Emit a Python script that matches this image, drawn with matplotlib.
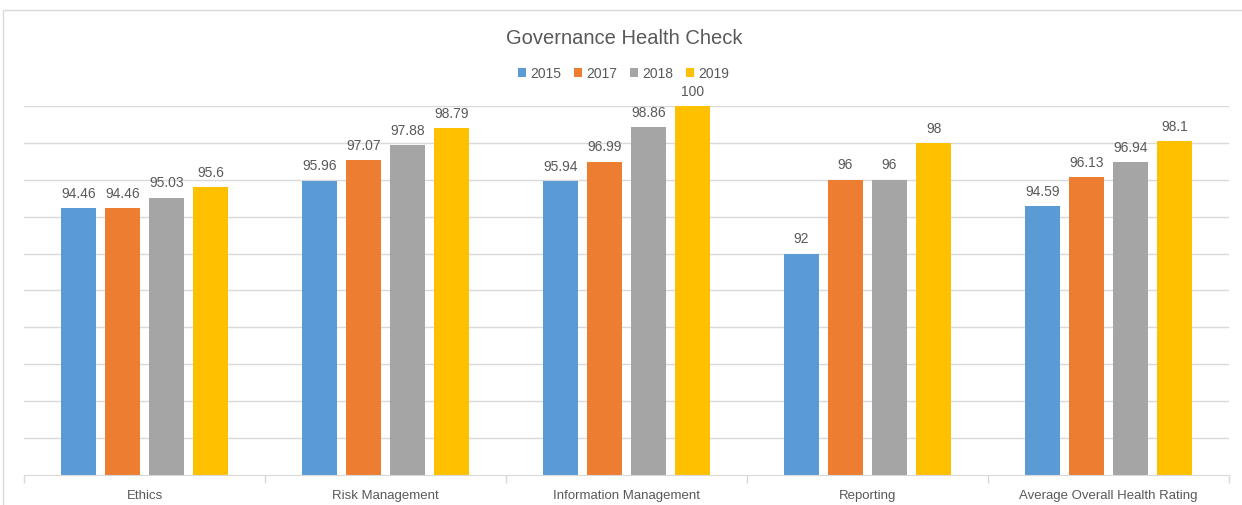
import numpy as np
import matplotlib.pyplot as plt
from matplotlib.patches import Rectangle

plt.rcParams['font.family'] = ['Liberation Sans', 'DejaVu Sans']

categories = ['Ethics', 'Risk Management', 'Information Management',
              'Reporting', 'Average Overall Health Rating']
years = ['2015', '2017', '2018', '2019']
v2015 = [94.46, 95.96, 95.94, 92, 94.59]
v2017 = [94.46, 97.07, 96.99, 96, 96.13]
v2018 = [95.03, 97.88, 98.86, 96, 96.94]
v2019 = [95.6, 98.79, 100, 98, 98.1]
labels2015 = ['94.46', '95.96', '95.94', '92', '94.59']
labels2017 = ['94.46', '97.07', '96.99', '96', '96.13']
labels2018 = ['95.03', '97.88', '98.86', '96', '96.94']
labels2019 = ['95.6', '98.79', '100', '98', '98.1']

series = [v2015, v2017, v2018, v2019]
series_labels = [labels2015, labels2017, labels2018, labels2019]
colors = ['#5B9BD5', '#ED7D31', '#A5A5A5', '#FFC000']
text_c = '#595959'

fig = plt.figure(figsize=(12.42, 5.06), dpi=100)
fig.patches.append(Rectangle((3/1242, -0.2), 2.0, 0.2 + (506-11)/506,
                             transform=fig.transFigure, fill=False,
                             edgecolor='#d9d9d9', lw=1.0))
ax = fig.add_axes([24/1242, (506-476)/506, 1205/1242, 369/506])

x = np.arange(len(categories))
step = 0.183
width = 0.145
for i, (vals, labs, col, yr) in enumerate(zip(series, series_labels, colors, years)):
    pos = x + (i - 1.5)*step
    ax.bar(pos, np.array(vals) - 80, width, bottom=80, color=col, label=yr)
    for p, v, l in zip(pos, vals, labs):
        ax.text(p, v + 0.45, l, ha='center', va='bottom', fontsize=10, color=text_c)

ax.set_xlim(-0.5, len(categories) - 0.5)
ax.set_ylim(80, 100)
ax.set_yticks(np.arange(82, 101, 2))
ax.yaxis.grid(True, color='#d9d9d9', lw=1)
ax.set_axisbelow(True)
ax.tick_params(axis='y', length=0, labelleft=False)
for s in ['top', 'right', 'left']:
    ax.spines[s].set_visible(False)
ax.spines['bottom'].set_color('#d9d9d9')
ax.set_xticks(x)
ax.set_xticklabels(categories, fontsize=9.5, color=text_c)
ax.tick_params(axis='x', length=0, pad=10)
ax.set_xticks(np.arange(-0.5, len(categories), 1), minor=True)
ax.tick_params(axis='x', which='minor', length=6, color='#d9d9d9', width=1)

fig.text(0.503, (506-38)/506, 'Governance Health Check', ha='center', va='center',
         fontsize=14.5, color=text_c)
fig.legend(loc='center', bbox_to_anchor=(0.502, (506-74)/506), ncol=4, frameon=False,
           fontsize=10, labelcolor=text_c, handlelength=0.6, handleheight=0.6,
           handletextpad=0.3, columnspacing=0.9)

fig.savefig('out.png', dpi=100)
